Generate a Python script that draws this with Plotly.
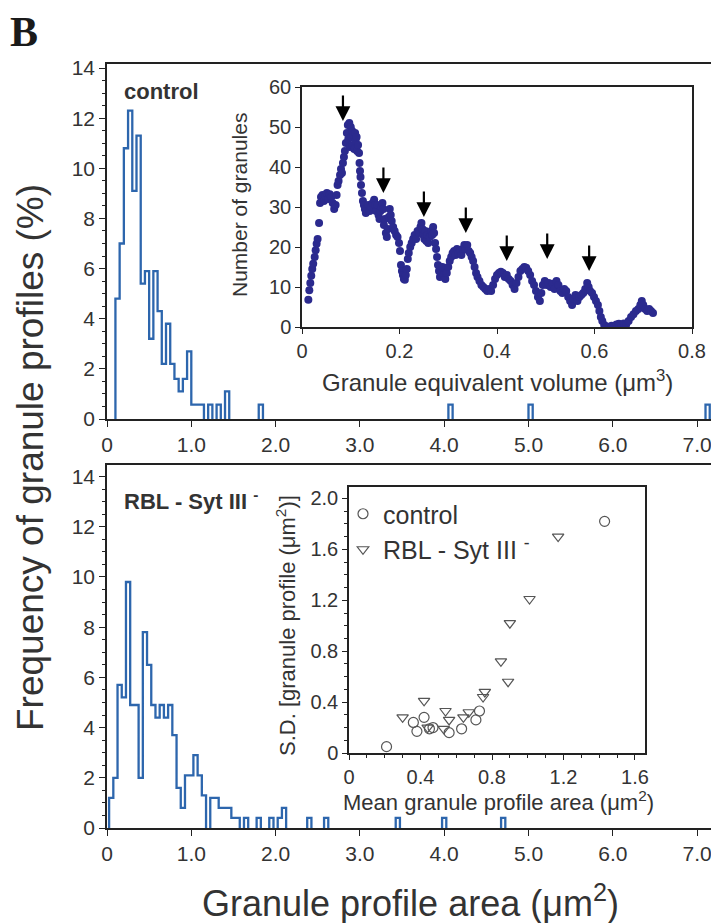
import plotly.graph_objects as go

# the page body adds an 8px margin, so the figure is 8px smaller on each axis
OFF = 8
W, H = 719 - OFF, 923 - OFF
FONT = "Liberation Sans, Arial, sans-serif"
INK = "#333333"
AXIS = "#222222"
HIST_BLUE = "#2d66ad"
DOT_BLUE = "#2b2a8e"
GREY = "#555555"

BIN_W = 0.05

# control: histogram bins (left edge, um^2) and frequency (%)
ctrl_left = [0.10, 0.15, 0.20, 0.25, 0.30, 0.35, 0.40, 0.45, 0.50, 0.55,
             0.60, 0.65, 0.70, 0.75, 0.80, 0.85, 0.90, 0.95, 1.00, 1.05,
             1.10, 1.20, 1.30, 1.40, 1.80, 4.05, 5.00, 7.10]
ctrl_pct = [4.8, 7.0, 10.8, 12.3, 9.1, 11.3, 5.4, 5.9, 3.2, 5.9,
            4.3, 2.2, 3.8, 2.2, 1.6, 1.1, 1.6, 2.7, 0.57, 0.57,
            0.57, 0.57, 0.57, 1.1, 0.57, 0.57, 0.57, 0.57]

# RBL - Syt III- : histogram bins and frequency (%)
syt_left = [0.025, 0.075, 0.125, 0.175, 0.225, 0.275, 0.325, 0.375, 0.425, 0.475,
            0.525, 0.575, 0.625, 0.675, 0.725, 0.775, 0.825, 0.875, 0.925, 0.975,
            1.025, 1.075, 1.125, 1.225, 1.275, 1.325, 1.375, 1.425, 1.475, 1.525,
            1.625, 1.775, 1.925, 2.025, 2.075, 2.375, 2.575, 3.425, 3.975, 4.675]
syt_pct = [1.2, 2.0, 5.7, 5.2, 9.8, 4.9, 4.9, 2.0, 7.8, 6.5,
           4.9, 4.4, 4.9, 4.4, 4.9, 3.7, 1.6, 0.8, 2.1, 2.1,
           2.9, 2.1, 1.3, 1.2, 1.2, 0.8, 0.8, 0.8, 0.4, 0.4,
           0.4, 0.4, 0.4, 0.4, 0.8, 0.4, 0.4, 0.4, 0.4, 0.4]

# inset A: granule equivalent volume (um^3) vs number of granules
vol_x = [0.013, 0.015, 0.017, 0.019, 0.021, 0.023, 0.026, 0.028, 0.030, 0.032,
         0.035, 0.037, 0.039, 0.042, 0.045, 0.048, 0.051, 0.054, 0.057, 0.060,
         0.063, 0.066, 0.069, 0.071, 0.073, 0.075, 0.078, 0.080, 0.082, 0.084,
         0.086, 0.088, 0.090, 0.092, 0.094, 0.095, 0.097, 0.098, 0.100, 0.101,
         0.103, 0.104, 0.106, 0.107, 0.109, 0.110, 0.112, 0.113, 0.115, 0.117,
         0.118, 0.119, 0.120, 0.121, 0.123, 0.125, 0.127, 0.129, 0.131, 0.133,
         0.136, 0.139, 0.142, 0.145, 0.148, 0.150, 0.152, 0.155, 0.157, 0.159,
         0.161, 0.163, 0.165, 0.167, 0.168, 0.170, 0.172, 0.174, 0.176, 0.178,
         0.180, 0.182, 0.184, 0.187, 0.190, 0.193, 0.196, 0.199, 0.201, 0.203,
         0.205, 0.207, 0.209, 0.211, 0.213, 0.215, 0.217, 0.219, 0.222, 0.225,
         0.228, 0.231, 0.234, 0.237, 0.240, 0.243, 0.245, 0.247, 0.249, 0.251,
         0.253, 0.255, 0.257, 0.259, 0.262, 0.265, 0.267, 0.269, 0.271, 0.273,
         0.275, 0.277, 0.279, 0.281, 0.283, 0.285, 0.288, 0.291, 0.294, 0.297,
         0.300, 0.303, 0.306, 0.309, 0.312, 0.315, 0.318, 0.321, 0.324, 0.327,
         0.330, 0.333, 0.336, 0.339, 0.342, 0.345, 0.348, 0.351, 0.354, 0.357,
         0.360, 0.364, 0.368, 0.372, 0.376, 0.380, 0.384, 0.388, 0.392, 0.396,
         0.400, 0.404, 0.408, 0.412, 0.416, 0.420, 0.424, 0.428, 0.432, 0.436,
         0.440, 0.444, 0.448, 0.452, 0.456, 0.460, 0.464, 0.468, 0.472, 0.476,
         0.480, 0.484, 0.488, 0.491, 0.494, 0.498, 0.502, 0.506, 0.510, 0.514,
         0.518, 0.522, 0.526, 0.530, 0.534, 0.538, 0.542, 0.546, 0.550, 0.554,
         0.557, 0.561, 0.565, 0.569, 0.573, 0.577, 0.581, 0.585, 0.588, 0.591,
         0.595, 0.599, 0.603, 0.607, 0.610, 0.613, 0.616, 0.620, 0.625, 0.630,
         0.635, 0.640, 0.645, 0.650, 0.655, 0.660, 0.665, 0.670, 0.675, 0.680,
         0.685, 0.690, 0.694, 0.697, 0.700, 0.704, 0.708, 0.712, 0.716, 0.720]
vol_n = [6.8, 9.2, 11.0, 12.8, 14.5, 15.8, 17.5, 19.2, 20.8, 22.0,
         26.0, 31.0, 32.5, 33.0, 31.5, 32.8, 33.5, 32.0, 33.2, 32.5,
         31.0, 29.5, 30.5, 33.0, 35.5, 36.5, 38.0, 39.5, 38.5, 41.0,
         42.5, 44.0, 46.0, 48.5, 50.5, 47.0, 51.0, 45.0, 50.0, 47.5,
         49.0, 45.5, 48.0, 44.5, 48.5, 46.5, 47.5, 44.0, 45.5, 43.5,
         41.0, 39.0, 37.5, 35.5, 33.5, 31.5, 30.5, 29.5, 28.5, 29.5,
         30.5, 29.0, 30.0, 31.0, 31.8, 30.5, 29.0, 30.5, 28.0, 27.0,
         29.0, 30.0, 31.0, 29.5, 25.5, 27.0, 23.5, 22.5, 24.5, 27.5,
         29.5, 28.0, 26.5, 25.0, 24.0, 23.0, 22.5, 21.0, 19.0, 15.5,
         14.0, 13.0, 12.0, 11.8, 13.0, 14.5, 17.0, 18.5, 20.0, 21.0,
         22.0, 23.0, 22.0, 24.0, 23.5, 25.0, 26.0, 24.5, 23.0, 22.0,
         24.0, 21.5, 23.0, 21.0, 22.5, 24.0, 23.0, 25.0, 23.5, 21.0,
         19.5, 17.5, 15.5, 14.0, 12.5, 13.5, 15.0, 13.0, 12.0, 13.5,
         15.0, 16.5, 17.5, 18.5, 19.0, 18.0, 19.5, 18.5, 19.0, 18.0,
         19.5, 20.5, 19.5, 20.5, 19.0, 18.5, 17.5, 16.5, 15.0, 13.5,
         12.5, 11.5, 10.5, 10.0, 9.5, 9.0, 9.5, 9.0, 10.5, 12.0,
         13.0, 13.5, 13.8, 13.5, 12.5, 13.0, 12.0, 11.5, 10.5, 9.5,
         11.0, 12.5, 14.0, 14.5, 15.0, 14.8, 14.0, 13.0, 11.5, 10.5,
         9.0, 7.5, 6.5, 8.5, 10.5, 11.5, 10.5, 11.0, 10.0, 10.8,
         9.5, 11.5, 10.5, 9.0, 8.5, 9.5, 9.0, 7.5, 6.5, 5.5,
         7.0, 8.0, 6.5, 7.5, 8.0, 8.5, 9.5, 11.0, 10.0, 9.0,
         8.5, 7.5, 6.5, 5.5, 4.0, 2.5, 1.5, 0.5, 0.1, 0.0,
         0.3, 0.1, 0.6, 0.8, 0.4, 0.9, 0.6, 1.5, 2.5, 3.2,
         4.0, 4.5, 5.5, 6.5, 5.5, 4.5, 4.0, 4.5, 4.0, 3.5]

# arrows marking the peaks (tip position)
peak_x = [0.084, 0.167, 0.250, 0.336, 0.420, 0.503, 0.589]
peak_n = [51.5, 33.5, 27.5, 23.5, 16.5, 17.0, 14.0]

# inset B: mean granule profile area vs S.D.
ctrl_mean = [0.21, 0.36, 0.38, 0.42, 0.45, 0.47, 0.56, 0.63, 0.71, 0.73, 1.43]
ctrl_sd = [0.05, 0.24, 0.17, 0.28, 0.19, 0.20, 0.16, 0.19, 0.26, 0.33, 1.82]
syt_mean = [0.30, 0.42, 0.44, 0.53, 0.54, 0.56, 0.64, 0.67, 0.75, 0.76,
            0.85, 0.89, 0.90, 1.01, 1.17]
syt_sd = [0.28, 0.41, 0.20, 0.19, 0.33, 0.26, 0.28, 0.32, 0.44, 0.48,
          0.72, 0.56, 1.02, 1.21, 1.70]


def step_path(lefts, heights, width):
    xs, ys = [], []
    prev_r = None
    for l, h in zip(lefts, heights):
        if prev_r is None or abs(l - prev_r) > 1e-6:
            if prev_r is not None:
                xs += [prev_r, None]
                ys += [0, None]
            xs.append(l)
            ys.append(0)
        xs += [l, l + width]
        ys += [h, h]
        prev_r = l + width
    xs.append(prev_r)
    ys.append(0)
    return xs, ys


# page pixel -> paper fraction
def fx(p):
    return (p - OFF) / W


def fy(p):
    return 1 - (p - OFF) / H


fig = go.Figure()

cx, cy = step_path(ctrl_left, ctrl_pct, BIN_W)
fig.add_trace(go.Scatter(x=cx, y=cy, mode="lines", line=dict(color=HIST_BLUE, width=2.3),
                         showlegend=False, xaxis="x", yaxis="y"))
sx, sy = step_path(syt_left, syt_pct, BIN_W)
fig.add_trace(go.Scatter(x=sx, y=sy, mode="lines", line=dict(color=HIST_BLUE, width=2.3),
                         showlegend=False, xaxis="x2", yaxis="y2"))

fig.add_trace(go.Scatter(x=vol_x, y=vol_n, mode="markers",
                         marker=dict(color=DOT_BLUE, size=8),
                         showlegend=False, xaxis="x3", yaxis="y3"))

fig.add_trace(go.Scatter(x=ctrl_mean, y=ctrl_sd, mode="markers", name="control",
                         marker=dict(symbol="circle-open", size=10, color=GREY, line=dict(width=1.2)),
                         xaxis="x4", yaxis="y4"))
fig.add_trace(go.Scatter(x=syt_mean, y=syt_sd, mode="markers", name="RBL - Syt III <sup>-</sup>",
                         marker=dict(symbol="triangle-down-open", size=10, color=GREY, line=dict(width=1.2)),
                         xaxis="x4", yaxis="y4"))

tick_font = dict(family=FONT, size=21, color=INK)
inset_font = dict(family=FONT, size=20, color=INK)
hist_x_ticks = dict(tickmode="array", tickvals=[0, 1, 2, 3, 4, 5, 6, 7],
                    ticktext=["0", "1.0", "2.0", "3.0", "4.0", "5.0", "6.0", "7.0"])
common = dict(showgrid=False, zeroline=False, showline=True, linecolor=AXIS, linewidth=1.5,
              ticks="outside", tickcolor=AXIS, tickwidth=1.3, automargin=False)
minor_ticks = dict(ticklen=3, ticks="outside", tickcolor=AXIS, showgrid=False)

x_dom = [fx(107), 1.0]
fig.update_layout(
    template="none",
    xaxis=dict(domain=x_dom, range=[0, 7.26], anchor="y", mirror=True, ticklen=6,
               tickfont=tick_font, **hist_x_ticks, **common),
    yaxis=dict(domain=[fy(419), fy(64)], range=[0, 14.16], anchor="x", dtick=2, ticklen=6,
               tickfont=tick_font, minor=dict(dtick=0.5, **minor_ticks), **common),
    xaxis2=dict(domain=x_dom, range=[0, 7.26], anchor="y2", mirror=True, ticklen=6,
                tickfont=tick_font, **hist_x_ticks, **common),
    yaxis2=dict(domain=[fy(828), fy(465)], range=[0, 14.46], anchor="x2", dtick=2, ticklen=6,
                tickfont=tick_font, minor=dict(dtick=0.5, **minor_ticks), **common),
    xaxis3=dict(domain=[fx(302), fx(692)], range=[0, 0.8], anchor="y3", mirror=True, ticklen=5,
                tickmode="array", tickvals=[0, 0.2, 0.4, 0.6, 0.8],
                ticktext=["0", "0.2", "0.4", "0.6", "0.8"], tickfont=inset_font, **common),
    yaxis3=dict(domain=[fy(327), fy(87)], range=[0, 60], anchor="x3", mirror=True, ticklen=5,
                dtick=10, tickfont=inset_font, **common),
    xaxis4=dict(domain=[fx(349), fx(645)], range=[0, 1.656], anchor="y4", mirror=True, ticklen=5,
                tickmode="array", tickvals=[0, 0.4, 0.8, 1.2, 1.6],
                ticktext=["0", "0.4", "0.8", "1.2", "1.6"], tickfont=inset_font,
                minor=dict(dtick=0.1, **minor_ticks), **common),
    yaxis4=dict(domain=[fy(753), fy(487)], range=[0, 2.09], anchor="x4", mirror=True, ticklen=5,
                tickmode="array", tickvals=[0, 0.4, 0.8, 1.2, 1.6, 2.0],
                ticktext=["0", "0.4", "0.8", "1.2", "1.6", "2.0"], tickfont=inset_font,
                minor=dict(dtick=0.1, **minor_ticks), **common),
)

annotations = []
for px_, pn in zip(peak_x, peak_n):
    annotations.append(dict(x=px_, y=pn, xref="x3", yref="y3", text="", showarrow=True,
                            ax=0, ay=-27, arrowhead=2, arrowsize=1.35, arrowwidth=2.2,
                            arrowcolor="black", standoff=0))


def label(text, x, y, size, angle=0, anchor="center", family=FONT, color=INK):
    annotations.append(dict(text=text, x=fx(x), y=fy(y), xref="paper", yref="paper",
                            showarrow=False, textangle=angle, xanchor=anchor, yanchor="middle",
                            font=dict(family=family, size=size, color=color)))


label("<b>B</b>", 24, 32, 42, family="Liberation Serif, Times New Roman, serif", color="#1a1a1a")
label("<b>control</b>", 122, 92, 22, anchor="left")
label("<b>RBL - Syt III <sup>-</sup></b>", 122, 500, 22, anchor="left")
label("Frequency of granule profiles (%)", 30, 458, 37, angle=-90)
label("Granule profile area (μm<sup>2</sup>)", 410, 901, 36)
label("Number of granules", 239, 205, 21, angle=-90)
label("Granule equivalent volume (μm<sup>3</sup>)", 497, 381, 24)
label("S.D. [granule profile (μm<sup>2</sup>)]", 286, 626, 22, angle=-90)
label("Mean granule profile area (μm<sup>2</sup>)", 498, 801, 22)

fig.update_layout(
    width=W, height=H,
    margin=dict(l=0, r=0, t=0, b=0, autoexpand=False),
    paper_bgcolor="white", plot_bgcolor="white",
    font=dict(family=FONT, color=INK),
    annotations=annotations,
    showlegend=True,
    legend=dict(x=fx(343), y=fy(491), xanchor="left", yanchor="top",
                bgcolor="rgba(0,0,0,0)", font=dict(family=FONT, size=25, color=INK),
                itemwidth=30, tracegroupgap=0),
)

fig.write_html("out.html")
